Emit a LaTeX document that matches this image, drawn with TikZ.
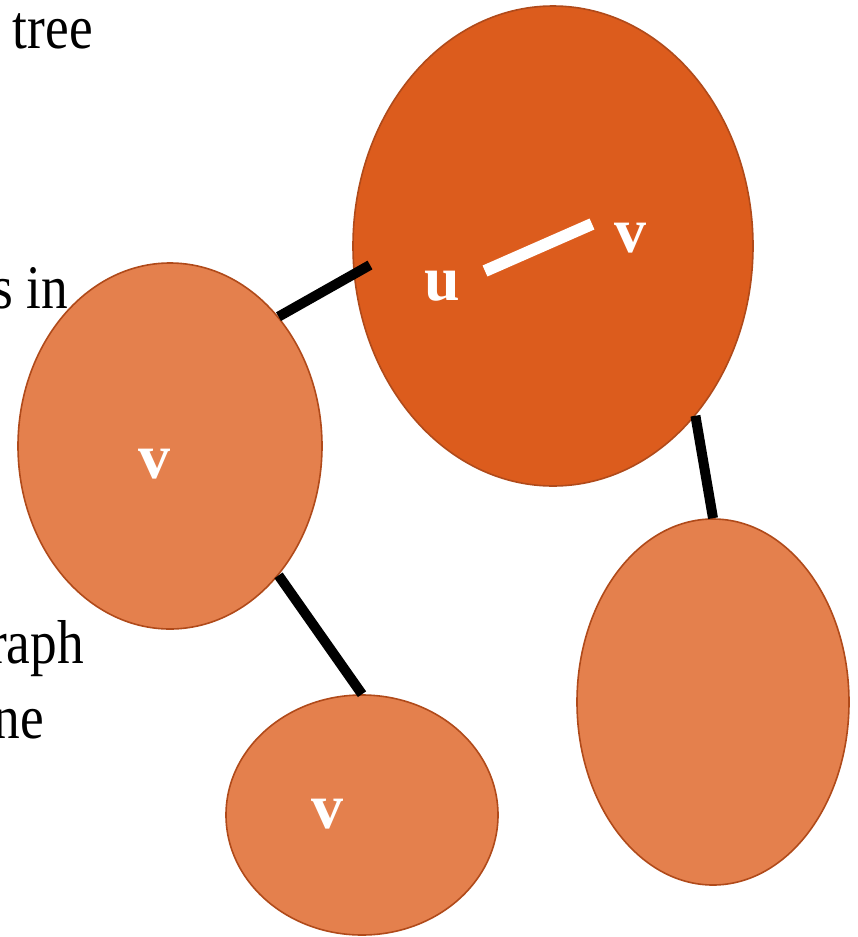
\documentclass[tikz,border=0pt]{standalone}
\usepackage{fontspec}
\setmainfont{Liberation Serif}
\newfontfamily\textoestrecho[FakeStretch=0.86]{Liberation Serif}
\usepackage{tikz}
\usetikzlibrary{shapes.geometric}
\definecolor{NaranjaOscuro}{RGB}{220,92,29}
\definecolor{NaranjaClaro}{RGB}{228,128,77}
\definecolor{BordeNaranja}{RGB}{176,74,26}

\begin{document}
\begin{tikzpicture}[x=1pt,y=-1pt,
  blob/.style={ellipse,draw=BordeNaranja,line width=1.6pt,inner sep=0pt},
  etiqueta/.style={anchor=base,text=white,font=\fontsize{64}{64}\selectfont\bfseries},
  texto/.style={anchor=base east,inner sep=0pt,font=\fontsize{62}{62}\textoestrecho}]
  \useasboundingbox (0,0) rectangle (858,937);

  \node[texto] (t1) at (93,48) {tree};
  \node[texto] (t2) at (68,308) {s in};
  \node[texto] (t3) at (84,663) {raph};
  \node[texto] (t4) at (44,738) {ne};

  \node[blob,fill=NaranjaOscuro,minimum width=400pt,minimum height=480pt] (grande) at (553,246) {};
  \node[blob,fill=NaranjaClaro,minimum width=304pt,minimum height=366pt] (izq) at (170,446) {};
  \node[blob,fill=NaranjaClaro,minimum width=272pt,minimum height=240pt] (abajo) at (362,815) {};
  \node[blob,fill=NaranjaClaro,minimum width=272pt,minimum height=366pt] (der) at (713,702) {};

  % enlaces del arbol
  \coordinate (entrada) at (370,265);
  \draw[line width=10pt] (izq.50) -- (entrada);
  \draw[line width=10pt] (izq.-50) -- (abajo.north);
  \draw[line width=10pt] (grande.-50) -- (der.north);

  \node[etiqueta] (u) at (442,300) {u};
  \node[etiqueta] (v) at (630,252) {v};
  \node[etiqueta] (vizq) at (154,478) {v};
  \node[etiqueta] (vabajo) at (327,828) {v};

  \coordinate (uv1) at (485,271);
  \coordinate (uv2) at (592,224);
  \draw[white,line width=12pt] (uv1) -- (uv2);
\end{tikzpicture}
\end{document}
